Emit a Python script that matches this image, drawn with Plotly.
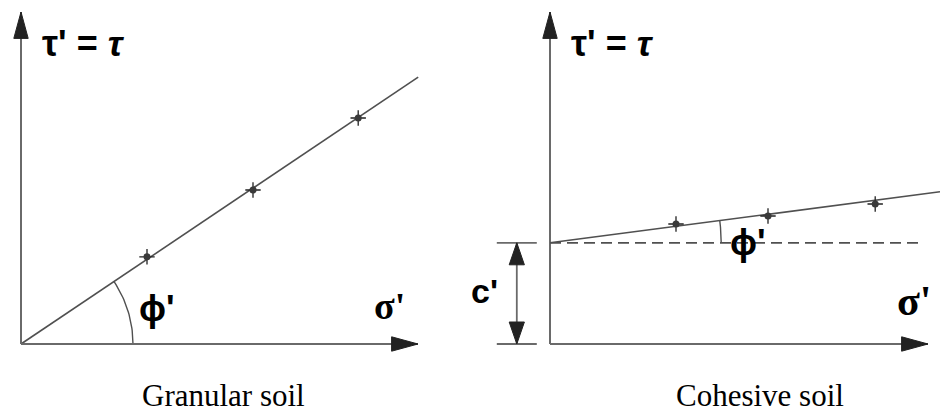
import numpy as np
import plotly.graph_objects as go
from plotly.subplots import make_subplots

# schematic test results (normal effective stress vs shear stress, arbitrary units)
granular_sigma = [3.15, 5.8, 8.43]
granular_tau = [2.18, 3.85, 5.65]
cohesive_sigma = [3.15, 5.45, 8.13]
cohesive_tau = [3.0, 3.2, 3.5]

# Mohr-Coulomb envelope parameters
cohesion = [0.0, 2.53]            # c'
friction_angle = [33.9, 7.45]     # phi' in degrees
envelope_end = [9.93, 9.75]       # sigma' where each envelope line stops

panel_titles = ["Granular soil", "Cohesive soil"]
y_label = "<b>τ' = <i>τ</i></b>"
x_label = "<b>σ'</b>"
angle_label = "<b>ϕ'</b>"
c_label = "<b>c'</b>"

LINE = "#505050"
AXIS = "#6a6a6a"
DARK = "#222222"

fig = make_subplots(rows=1, cols=2, horizontal_spacing=0)


def arrow_path(tx, ty, dx, dy, length=0.66, half=0.18):
    # filled triangle with tip at (tx, ty) pointing along (dx, dy)
    bx, by = tx - dx * length, ty - dy * length
    px, py = -dy * half, dx * half
    return f"M{tx},{ty} L{bx + px},{by + py} L{bx - px},{by - py} Z"


x_len = [9.925, 9.45]
y_len = 8.3
arc_r = [2.8, 4.28]

for i in range(2):
    col = i + 1
    xr, yr = ("x", "y") if i == 0 else ("x2", "y2")
    c = cohesion[i]
    phi = friction_angle[i]
    sig = granular_sigma if i == 0 else cohesive_sigma
    tau = granular_tau if i == 0 else cohesive_tau

    # axes
    fig.add_shape(type="line", x0=0, y0=0, x1=x_len[i], y1=0, xref=xr, yref=yr,
                  line=dict(color=AXIS, width=2))
    fig.add_shape(type="line", x0=0, y0=0, x1=0, y1=y_len, xref=xr, yref=yr,
                  line=dict(color=AXIS, width=2))
    fig.add_shape(type="path", path=arrow_path(x_len[i], 0, 1, 0), xref=xr, yref=yr,
                  fillcolor=DARK, line=dict(color=DARK, width=1))
    fig.add_shape(type="path", path=arrow_path(0, y_len, 0, 1), xref=xr, yref=yr,
                  fillcolor=DARK, line=dict(color=DARK, width=1))

    # failure envelope
    ex = [0, envelope_end[i]]
    ey = [c, c + envelope_end[i] * np.tan(np.radians(phi))]
    fig.add_trace(go.Scatter(x=ex, y=ey, mode="lines", line=dict(color=LINE, width=1.6),
                             hoverinfo="skip", showlegend=False), row=1, col=col)

    # test points
    fig.add_trace(go.Scatter(x=sig, y=tau, mode="markers",
                             marker=dict(symbol="cross-thin-open", size=11, color=DARK,
                                         line=dict(color=DARK, width=1.3)),
                             hoverinfo="skip", showlegend=False), row=1, col=col)
    fig.add_trace(go.Scatter(x=sig, y=tau, mode="markers",
                             marker=dict(symbol="circle", size=7, color="#3a3a3a"),
                             hoverinfo="skip", showlegend=False), row=1, col=col)

    # angle arc
    a = np.radians(np.linspace(0, phi, 30))
    fig.add_trace(go.Scatter(x=arc_r[i] * np.cos(a), y=c + arc_r[i] * np.sin(a), mode="lines",
                             line=dict(color=LINE, width=1.4),
                             hoverinfo="skip", showlegend=False), row=1, col=col)

    # labels
    fig.add_annotation(x=1.55, y=7.52, xref=xr, yref=yr, text=y_label, showarrow=False,
                       font=dict(family="Liberation Sans", size=36, color="black"))
    fig.add_annotation(x=[9.2, 9.12][i], y=[0.95, 1.07][i], xref=xr, yref=yr, text=x_label,
                       showarrow=False,
                       font=dict(family="Liberation Serif", size=[38, 42][i], color="black"))
    fig.add_annotation(x=[5.05, 5.25][i], y=-1.28, xref=xr, yref=yr, text=panel_titles[i],
                       showarrow=False,
                       font=dict(family="Liberation Serif", size=31, color="black"))

fig.add_annotation(x=3.4, y=0.88, xref="x", yref="y", text=angle_label, showarrow=False,
                   font=dict(family="Liberation Sans", size=36, color="black"))
fig.add_annotation(x=4.95, y=cohesion[1], xref="x2", yref="y2",
                   text=angle_label, showarrow=False,
                   font=dict(family="Liberation Sans", size=36, color="black"))

# cohesive soil: dashed reference line and c' dimension
c = cohesion[1]
fig.add_shape(type="line", x0=0, y0=c, x1=9.25, y1=c, xref="x2", yref="y2",
              line=dict(color=LINE, width=1.8, dash="11px,6px"))
for yy in [0, c]:
    fig.add_shape(type="line", x0=-1.33, y0=yy, x1=-0.33, y1=yy, xref="x2", yref="y2",
                  line=dict(color=AXIS, width=1.8))
fig.add_shape(type="line", x0=-0.83, y0=0, x1=-0.83, y1=c, xref="x2", yref="y2",
              line=dict(color=AXIS, width=1.8))
fig.add_shape(type="path", path=arrow_path(-0.83, c, 0, 1, 0.55, 0.19), xref="x2", yref="y2",
              fillcolor=DARK, line=dict(color=DARK, width=1))
fig.add_shape(type="path", path=arrow_path(-0.83, 0, 0, -1, 0.55, 0.19), xref="x2", yref="y2",
              fillcolor=DARK, line=dict(color=DARK, width=1))
fig.add_annotation(x=-1.65, y=c / 2 + 0.05, xref="x2", yref="y2", text=c_label, showarrow=False,
                   font=dict(family="Liberation Sans", size=34, color="black"))

# 40 px per unit on both axes, origin at (21,344) and (550,344)
axis_style = dict(visible=False, showgrid=False, zeroline=False, fixedrange=True)
fig.update_xaxes(axis_style)
fig.update_yaxes(axis_style)
fig.update_layout(
    xaxis=dict(domain=[0, 0.5], range=[-21 / 40, (470 - 21) / 40]),
    xaxis2=dict(domain=[0.5, 1], range=[-80 / 40, (470 - 80) / 40]),
    yaxis=dict(domain=[0, 1], range=[-(414 - 344) / 40, 344 / 40]),
    yaxis2=dict(domain=[0, 1], range=[-(414 - 344) / 40, 344 / 40]),
    width=940, height=414,
    margin=dict(l=0, r=0, t=0, b=0),
    paper_bgcolor="white", plot_bgcolor="white",
    showlegend=False,
)

fig.write_html("out.html", config={"displayModeBar": False},
               post_script="document.body.style.margin='0';")
